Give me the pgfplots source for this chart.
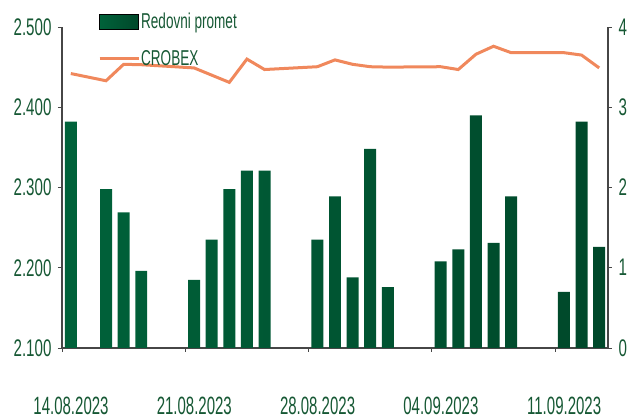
\documentclass[border=0pt]{standalone}
\usepackage{pgfplots}
\pgfplotsset{compat=1.18}
\usepackage{fontspec}
\setmainfont{Liberation Sans}[FakeStretch=0.63]
\newfontfamily\datefam{Liberation Sans}[FakeStretch=0.6]
\definecolor{gtxt}{RGB}{22,88,52}
\definecolor{barL}{RGB}{0,98,58}
\definecolor{barM}{RGB}{0,122,72}
\definecolor{barR}{RGB}{0,72,42}
\definecolor{crob}{RGB}{240,136,92}
\definecolor{axc}{RGB}{70,70,70}
\newcommand{\tickfont}{\fontsize{24}{27}\selectfont}
\newcommand{\datefont}{\datefam\fontsize{25}{28}\selectfont}
\newcommand{\legfont}{\fontsize{21.5}{24}\selectfont}
\begin{document}
\begin{tikzpicture}
\path[use as bounding box] (-62pt,-71pt) rectangle (568pt,348pt);
\pgfplotsset{
  common/.style={
    scale only axis, width=546pt, height=321pt,
    xmin=0, xmax=31,
    tick align=outside, major tick length=4pt,
    every tick/.style={axc, line width=0.8pt},
    axis line style={axc, line width=1.2pt},
    tick label style={font=\tickfont, text=gtxt},
    /pgf/number format/assume math mode=true,
  }
}
\begin{axis}[common,
  ymin=0, ymax=4, ytick={0,1,2,3,4},
  axis y line*=right, axis x line*=bottom,
  xtick={0,7,14,21,28},
  xticklabels={14.08.2023,21.08.2023,28.08.2023,04.09.2023,11.09.2023},
  xticklabel style={font=\datefont, anchor=center, inner sep=0pt, yshift=-54pt, xshift=9pt},
  yticklabel style={anchor=west, xshift=3pt},
]
\addplot[ybar, bar width=0.68, draw=none, left color=barL, middle color=barM, right color=barR] coordinates {
(0.5,2.82) (2.5,1.98) (3.5,1.69) (4.5,0.96)
(7.5,0.85) (8.5,1.35) (9.5,1.98) (10.5,2.21) (11.5,2.21)
(14.5,1.35) (15.5,1.89) (16.5,0.88) (17.5,2.48) (18.5,0.76)
(21.5,1.08) (22.5,1.23) (23.5,2.90) (24.5,1.31) (25.5,1.89)
(28.5,0.70) (29.5,2.82) (30.5,1.26)
};
\end{axis}
\begin{axis}[common,
  ymin=2100, ymax=2500, ytick={2100,2200,2300,2400,2500},
  axis y line*=left, axis x line=none,
  yticklabel style={anchor=east, xshift=-3pt, /pgf/number format/.cd, 1000 sep={.}},
  legend style={at={(axis description cs:0.0659,1.0467)}, anchor=north west,
    draw=none, fill=none, font=\legfont, text=gtxt, inner sep=0pt, row sep=18pt,
    nodes={inner sep=1pt}},
  legend cell align=left,
]
\addlegendimage{legend image code/.code={\path[left color=barL, middle color=barM, right color=barR] (0pt,-7.5pt) rectangle (39pt,7.5pt);}}
\addlegendentry{Redovni promet}
\addlegendimage{legend image code/.code={\draw[crob, line width=3pt] (0pt,0pt) -- (39pt,0pt);}}
\addlegendentry{CROBEX}
\addplot[crob, line width=3pt, mark=none, forget plot] coordinates {
(0.5,2442) (2.5,2433) (3.5,2453.5) (4.5,2453)
(7.5,2449) (8.5,2440) (9.5,2431) (10.5,2460) (11.5,2447)
(14.5,2450.5) (15.5,2459) (16.5,2453.5) (17.5,2450.5) (18.5,2450)
(21.5,2450.5) (22.5,2447) (23.5,2466) (24.5,2476) (25.5,2468)
(28.5,2468) (29.5,2465) (30.5,2449)
};
\end{axis}
\end{tikzpicture}
\end{document}
